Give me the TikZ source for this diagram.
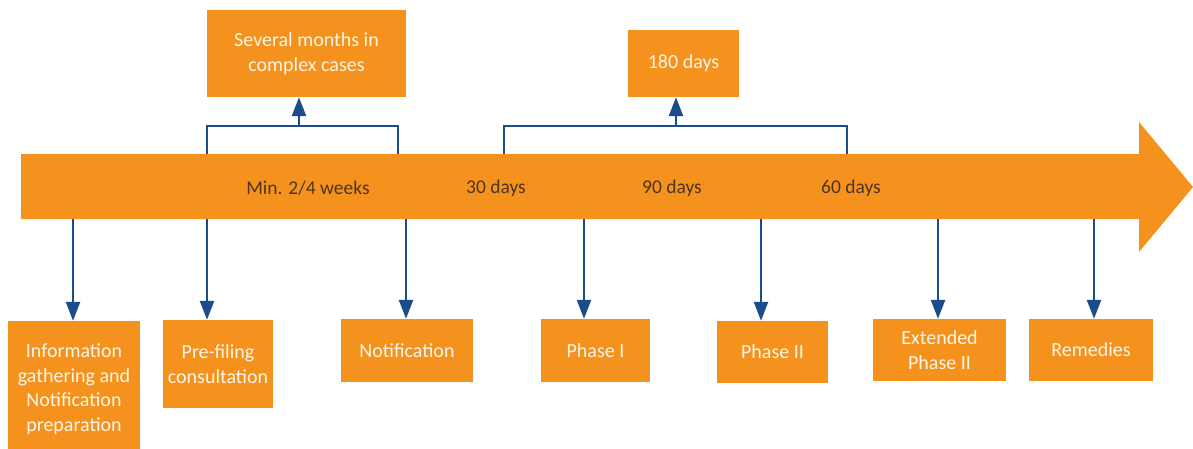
\documentclass[tikz,border=0pt]{standalone}
\usepackage{fontspec}
\setmainfont{Carlito}
\usetikzlibrary{arrows.meta}
\definecolor{orng}{RGB}{245,146,30}
\definecolor{blu}{RGB}{28,76,138}
\definecolor{bartext}{RGB}{78,52,30}
\definecolor{boxtext}{RGB}{255,246,232}
\tikzset{
  box/.style={fill=orng, draw=none, inner sep=0pt, align=center, text=boxtext,
    font=\fontsize{20}{24.5}\selectfont},
  barlabel/.style={text=bartext, inner sep=0pt, font=\fontsize{19.5}{24}\selectfont},
  conn/.style={draw=blu, line width=2.6pt, -{Triangle[width=14pt,length=19pt]}},
  brk/.style={draw=blu, line width=2.6pt},
}
\begin{document}
\begin{tikzpicture}[x=1pt,y=-1pt]
\useasboundingbox (0,0) rectangle (1193,448);
\clip (0,0) rectangle (1193,448);
% main timeline arrow
\fill[orng] (21,154) -- (1139,154) -- (1139,122) -- (1193,187) -- (1139,252) -- (1139,219) -- (21,219) -- cycle;
% coordinates on the bar
\coordinate (b1) at (207,154);
\coordinate (b2) at (398,154);
\coordinate (b3) at (504,154);
\coordinate (b4) at (847,154);
\coordinate (d1) at (73,219);
\coordinate (d2) at (207,219);
\coordinate (d3) at (406,219);
\coordinate (d4) at (584,219);
\coordinate (d5) at (761,219);
\coordinate (d6) at (938,219);
\coordinate (d7) at (1094,219);
% bar labels
\node[barlabel] (l1) at (308,188) {Min. 2/4 weeks};
\node[barlabel] (l2) at (496,188) {30 days};
\node[barlabel] (l3) at (672,188) {90 days};
\node[barlabel] (l4) at (851,188) {60 days};
% top boxes
\node[box, minimum width=199pt, minimum height=87pt] (t1) at (306.5,53.5) {Several months in\\complex cases};
\node[box, minimum width=111pt, minimum height=67pt] (t2) at (683.5,63.5) {180 days};
% brackets
\coordinate (k1) at (299,126);
\coordinate (k2) at (676,126);
\draw[brk] (b1) |- (k1) -| (b2);
\draw[brk] (b3) |- (k2) -| (b4);
\draw[conn] (k1) -- (k1 |- t1.south);
\draw[conn] (k2) -- (k2 |- t2.south);
% bottom boxes
\node[box, minimum width=132pt, minimum height=136pt] (n1) at (74,389) {Information\\gathering and\\Notification\\preparation};
\node[box, minimum width=110pt, minimum height=88pt] (n2) at (218,364) {Pre-filing\\consultation};
\node[box, minimum width=132pt, minimum height=63pt] (n3) at (407,350.5) {Notification};
\node[box, minimum width=109pt, minimum height=63pt] (n4) at (595.5,350.5) {Phase I};
\node[box, minimum width=111pt, minimum height=62pt] (n5) at (772.5,352) {Phase II};
\node[box, minimum width=133pt, minimum height=62pt] (n6) at (939.5,350) {Extended\\Phase II};
\node[box, minimum width=124pt, minimum height=62pt] (n7) at (1091,350) {Remedies};
% down connectors
\draw[conn] (d1) -- (d1 |- n1.north);
\draw[conn] (d2) -- (d2 |- n2.north);
\draw[conn] (d3) -- (d3 |- n3.north);
\draw[conn] (d4) -- (d4 |- n4.north);
\draw[conn] (d5) -- (d5 |- n5.north);
\draw[conn] (d6) -- (d6 |- n6.north);
\draw[conn] (d7) -- (d7 |- n7.north);
\end{tikzpicture}
\end{document}
